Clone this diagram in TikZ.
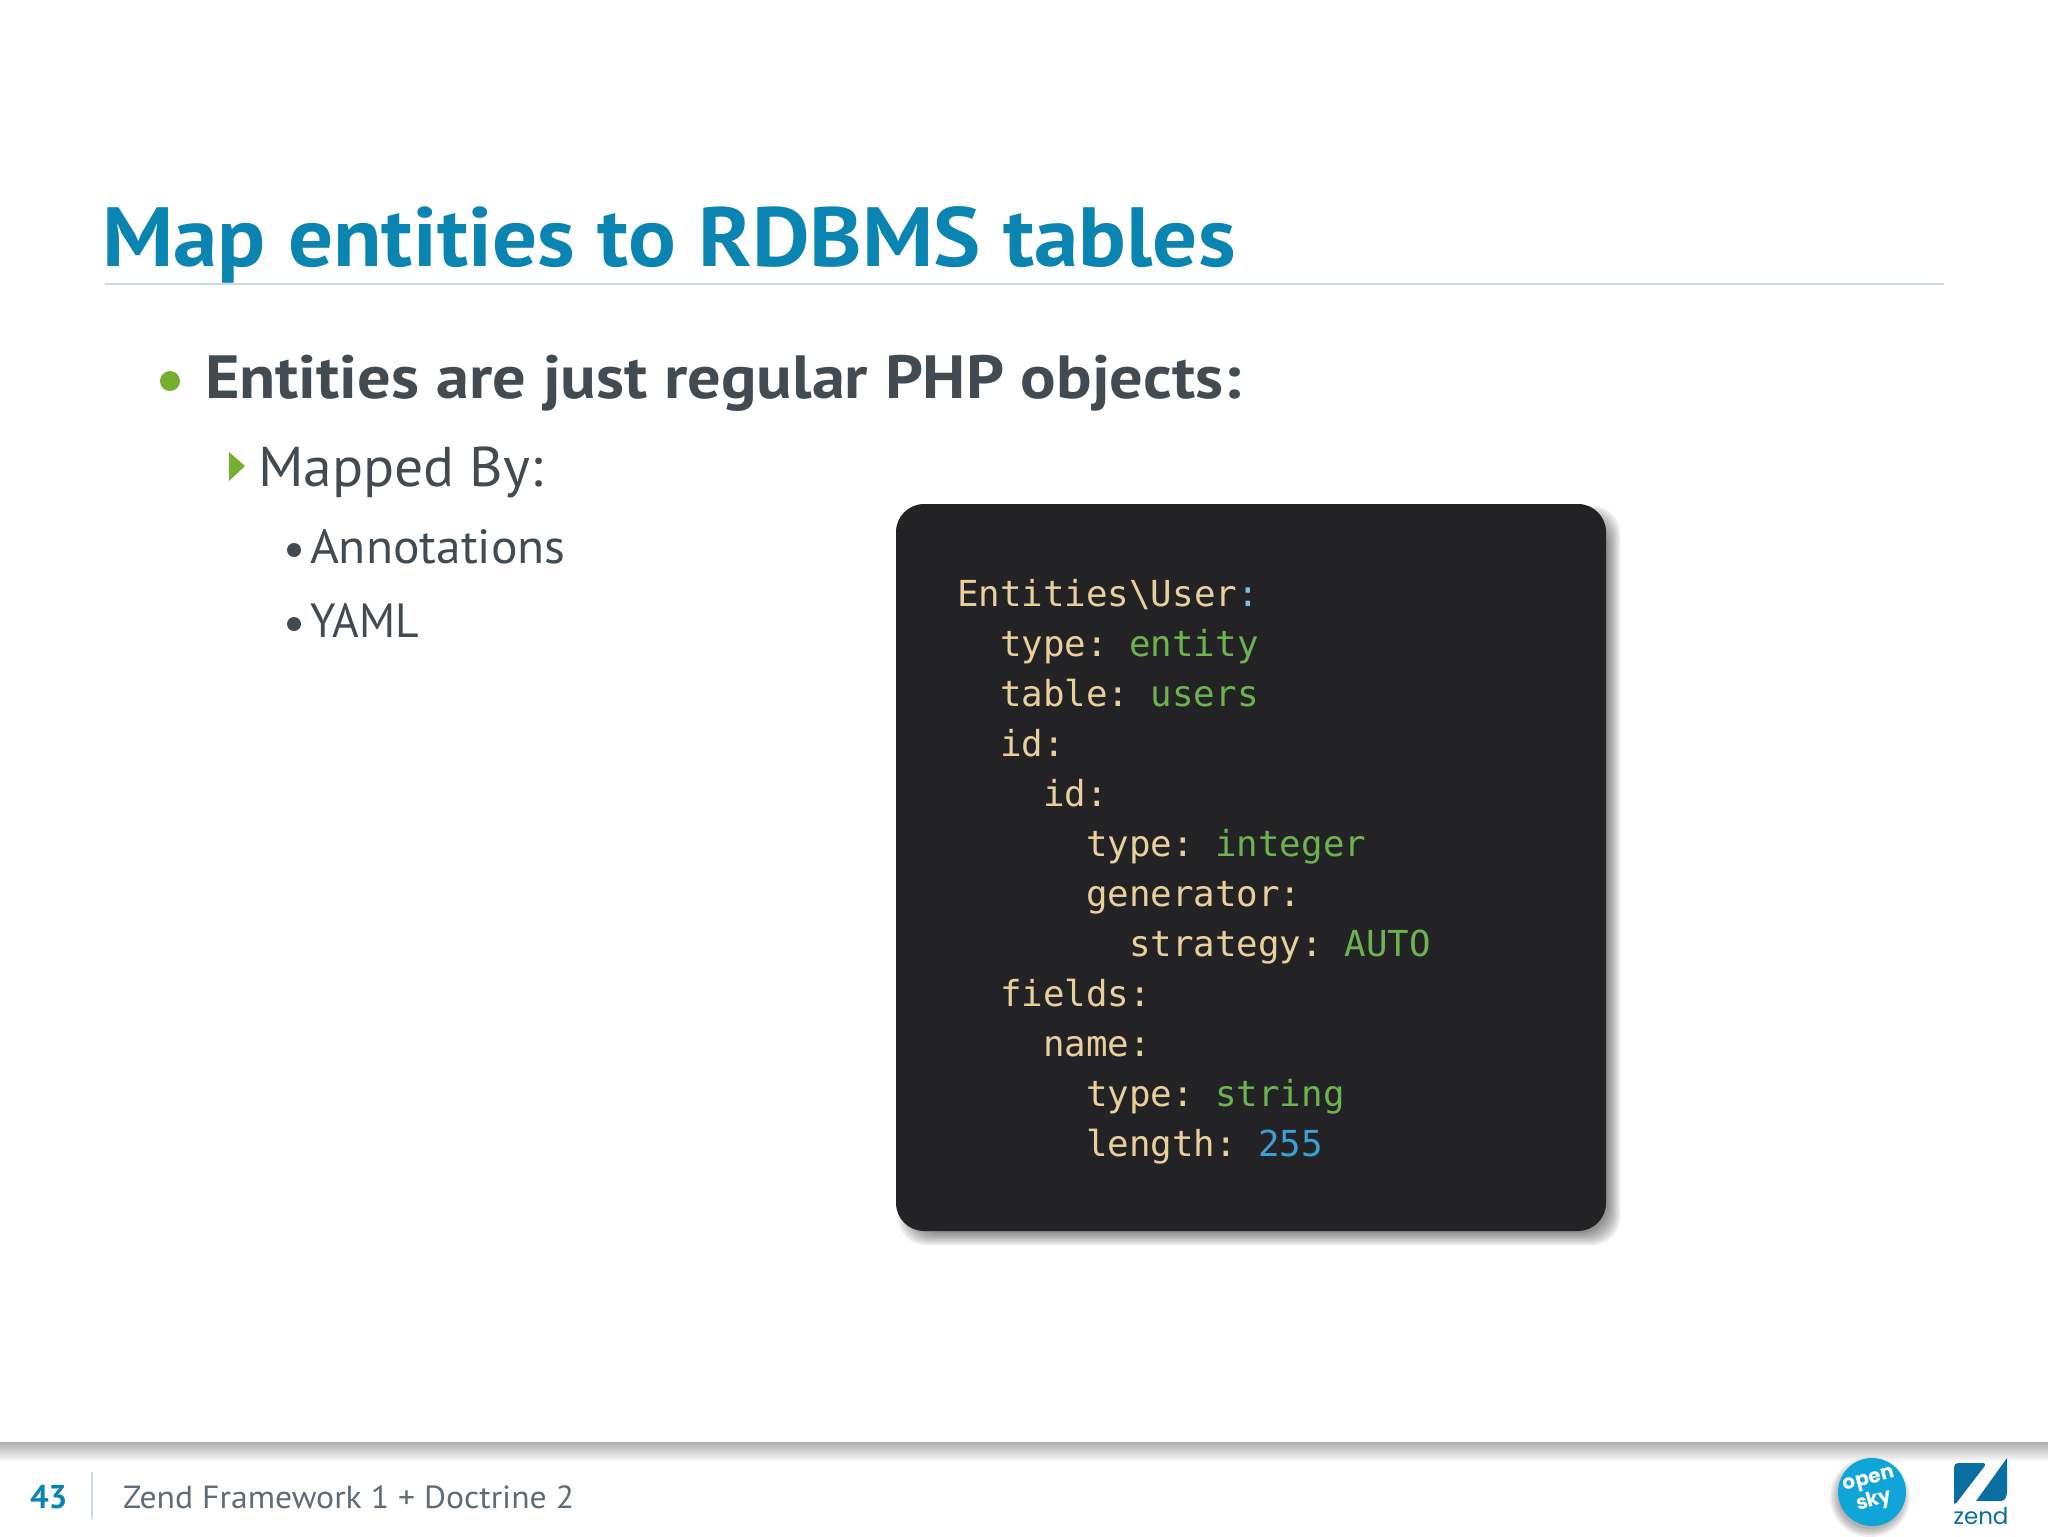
\documentclass[tikz,border=0pt]{standalone}
\usepackage{fontspec}
\setmainfont{PT Sans}
\setmonofont{DejaVu Sans Mono}
\newfontfamily\logofont{Poppins}
\usetikzlibrary{calc,shapes.geometric}
\definecolor{titleblue}{HTML}{0A84B0}
\definecolor{rulegrey}{HTML}{CBD9E6}
\definecolor{bodygrey}{HTML}{434B52}
\definecolor{footgrey}{HTML}{5F6B75}
\definecolor{bulgreen}{HTML}{76AE2E}
\definecolor{boxblack}{HTML}{232325}
\definecolor{yamlkey}{HTML}{E8CF9C}
\definecolor{yamlval}{HTML}{6CB34F}
\definecolor{yamlnum}{HTML}{3D9FD6}
\definecolor{yamlcolon}{HTML}{7FBFEF}
\definecolor{skyblue}{HTML}{0FA5D8}
\definecolor{zendblue}{HTML}{0A6FA0}
\tikzset{
    slidetext/.style={anchor=base west,inner sep=0pt,outer sep=0pt},
    yamlline/.style={slidetext,font=\ttfamily\fontsize{17.9}{20}\selectfont,text=yamlkey},
    codepanel/.style={fill=boxblack,rounded corners=14pt}
}
\newcommand{\yv}[1]{\textcolor{yamlval}{#1}}
\begin{document}
\begin{tikzpicture}[x=0.5pt,y=-0.5pt]
    \useasboundingbox (0,0) rectangle (2048,1536);
    % title
    \node[slidetext,text=titleblue,font=\addfontfeature{FakeStretch=1.061}\bfseries\fontsize{42}{50}\selectfont] (title) at (102,266) {Map entities to RDBMS tables};
    \draw[rulegrey,line width=0.7pt] (105,284) -- (1944,284);
    % bullets
    \node[slidetext,text=bodygrey,font=\addfontfeature{FakeStretch=1.088}\bfseries\fontsize{30.5}{36}\selectfont] (entities) at (205,398) {Entities are just regular PHP objects:};
    \fill[bulgreen] (170,381) circle (5pt);
    \node[slidetext,text=bodygrey,font=\addfontfeature{FakeStretch=1.028}\fontsize{28}{34}\selectfont] (mapped) at (258,486) {Mapped By:};
    \fill[bulgreen] (229,452) -- (245,466) -- (229,481) -- cycle;
    \foreach \name/\txt/\ypos/\stretch in {annot/Annotations/563/1.032, yaml/YAML/637/0.95} {
        \node[slidetext,text=bodygrey,font=\addfontfeature{FakeStretch=\stretch}\fontsize{24}{30}\selectfont] (\name) at (310,\ypos) {\txt};
        \fill[bodygrey] (294,\ypos-13) circle (3.5pt);
    }
    % code panel with its shadow
    \foreach \s in {2,4,...,16}
        \fill[black,opacity=0.08,rounded corners=14pt] (896+\s,504+\s) rectangle (1606+16-\s,1231+16-\s);
    \node[codepanel,minimum width=355pt,minimum height=363.5pt,inner sep=0pt] (codebox) at (1251,867.5) {};
    \foreach \row/\ind/\txt in {
        0/0/{Entities\textbackslash User\textcolor{yamlcolon}{:}},
        1/1/{type: \yv{entity}},
        2/1/{table: \yv{users}},
        3/1/{id:},
        4/2/{id:},
        5/3/{type: \yv{integer}},
        6/3/{generator:},
        7/4/{strategy: \yv{AUTO}},
        8/1/{fields:},
        9/2/{name:},
        10/3/{type: \yv{string}},
        11/3/{length: \textcolor{yamlnum}{255}}}
        \node[yamlline] (code\row) at (957+43*\ind,606+50*\row) {\txt};
    % footer
    \shade[top color=black!32,bottom color=white] (0,1442) rectangle (2048,1462);
    \node[slidetext,text=titleblue,font=\bfseries\fontsize{16.5}{20}\selectfont] (pageno) at (30,1508) {43};
    \draw[rulegrey,line width=0.8pt] (92,1472) -- (92,1519);
    \node[slidetext,text=footgrey,font=\addfontfeature{FakeStretch=1.052}\fontsize{16}{20}\selectfont] (foot) at (123,1508) {Zend Framework 1 + Doctrine 2};
    % open sky badge
    \foreach \s in {2,4,...,10}
        \fill[black,opacity=0.07] (1870,1497) circle (32+10-\s);
    \node[circle,fill=skyblue,minimum size=34pt,inner sep=0pt] (sky) at (1872,1492) {};
    \node[rotate=15,text=white,align=center,inner sep=0pt,font=\logofont\bfseries\fontsize{10}{8}\selectfont] (skytxt) at (sky) {open\\sky};
    % zend logo
    \fill[zendblue,rounded corners=2pt] (1954,1463) -- (1987,1463) -- (1954,1506) -- cycle;
    \fill[zendblue] (2007,1458) -- (2007,1491) to[out=-90,in=0] (2001,1501) -- (1976,1501) -- cycle;
    \node[text=zendblue,anchor=base,inner sep=0pt,font=\logofont\fontsize{11.5}{14}\selectfont] (zend) at (1981,1524) {zend};
\end{tikzpicture}
\end{document}
